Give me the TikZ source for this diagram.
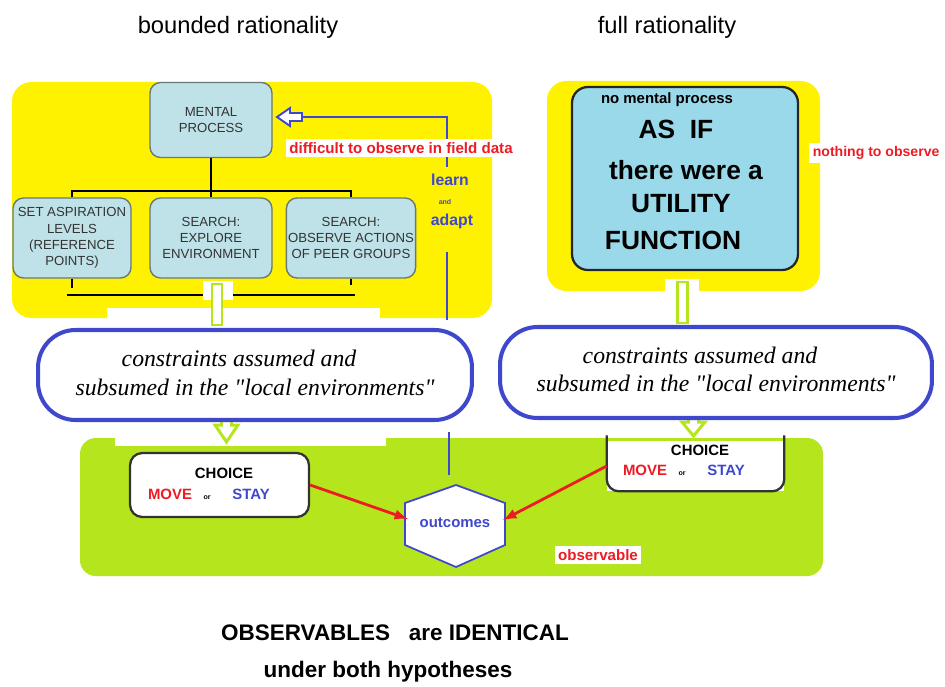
\documentclass[tikz,border=0pt]{standalone}
\usepackage{fontspec}
\setmainfont{Liberation Serif}
\setsansfont{Liberation Sans}
\usepackage{tikz}
\usetikzlibrary{positioning}
\definecolor{panelyellow}{RGB}{255,242,0}
\definecolor{panelgreen}{RGB}{181,230,29}
\definecolor{boxblue}{RGB}{190,226,232}
\definecolor{boxgray}{RGB}{105,120,120}
\definecolor{utilblue}{RGB}{153,217,234}
\definecolor{lineblue}{RGB}{63,72,204}
\definecolor{arrowred}{RGB}{237,28,36}
\newcommand{\plainquote}{\XeTeXglyph\XeTeXcharglyph"0022\relax}

\begin{document}
\begin{tikzpicture}[x=0.02cm,y=-0.02cm,node distance=0.2cm]
	\tikzstyle{heading}=[font=\sffamily\fontsize{13.5}{16}\selectfont]
	\tikzstyle{treebox}=[rectangle,rounded corners=6pt,draw=boxgray,fill=boxblue,line width=0.8pt,align=center,text=black!80,font=\sffamily\fontsize{7.5}{9.2}\selectfont,inner sep=1pt]
	\tikzstyle{treeline}=[line width=1.1pt]
	\tikzstyle{note}=[fill=white,text=arrowred,font=\sffamily\bfseries\fontsize{8.6}{9}\selectfont,inner sep=2pt]
	\tikzstyle{learntext}=[text=lineblue,font=\sffamily\bfseries\fontsize{9}{10}\selectfont,inner sep=0pt]
	\tikzstyle{feedback}=[lineblue,line width=1.2pt]
	\tikzstyle{bigtext}=[font=\sffamily\bfseries\fontsize{15}{17}\selectfont,inner sep=0pt]
	\tikzstyle{envbox}=[draw=lineblue,line width=2.3pt,fill=white,rounded corners=0.75cm]
	\tikzstyle{envtext}=[font=\itshape\fontsize{13.5}{16}\selectfont,inner sep=0pt]
	\tikzstyle{greenbar}=[draw=panelgreen,line width=1.7pt,fill=white,line join=miter]
	\tikzstyle{choicebox}=[draw=black!80,line width=1.3pt,fill=white,rounded corners=7pt,inner sep=0pt]
	\tikzstyle{choicetext}=[font=\sffamily\bfseries\fontsize{8.5}{10}\selectfont,inner sep=0pt]
	\tikzstyle{tinytext}=[font=\sffamily\bfseries\fontsize{4}{5}\selectfont,inner sep=0pt]
	\tikzstyle{choicearrow}=[arrowred,line width=1.6pt,-latex]
	\useasboundingbox (0,0) rectangle (945,686);
		\node[heading] (bounded) at (238,27) {bounded rationality};
		\node[heading] (full) at (667,27) {full rationality};
		\fill[panelyellow,rounded corners=11pt] (12,82) rectangle (492,318);
		\fill[white] (107,308) rectangle (380,322);
		\node[treebox,minimum width=2.44cm,minimum height=1.5cm] (mental) at (211,120) {MENTAL\\PROCESS};
		\node[treebox,minimum width=2.36cm,minimum height=1.6cm] (aspire) at (72,238) {SET ASPIRATION\\LEVELS\\(REFERENCE\\POINTS)};
		\node[treebox,minimum width=2.44cm,minimum height=1.6cm] (explore) at (211,238) {SEARCH:\\EXPLORE\\ENVIRONMENT};
		\node[treebox,minimum width=2.44cm,minimum height=1.6cm] (peers) at (351,238) {SEARCH:\\OBSERVE ACTIONS\\OF PEER GROUPS};
		\coordinate (fork) at (211,191);
			\draw[treeline] (mental) -- (fork);
			\draw[treeline] (aspire.north) |- (fork) -| (peers.north);
			\draw[treeline] (fork) -- (explore);
			\draw[treeline] (aspire.south) -- ++(0,9);
			\draw[treeline] (peers.south) -- ++(0,6);
			\draw[treeline] (67,295) -- (355,295);
		\coordinate (fb1) at (449,475);
		\coordinate (fb2) at (449,432);
		\coordinate (fb3) at (447,320);
		\coordinate (fb4) at (447,252);
		\coordinate (fb5) at (447,167);
		\coordinate (fb6) at (447,117);
		\coordinate (fb7) at (302,117);
			\draw[feedback] (fb3) -- (fb4);
			\draw[feedback] (fb5) -- (fb6) -- (fb7);
			\draw[lineblue,line width=1.1pt,fill=white,line join=miter] (fb7) -- ++(0,-4) -- ++(-12,0) -- ++(0,-5) -- ++(-13,9) -- ++(13,9) -- ++(0,-5) -- ++(12,0) -- cycle;
		\node[note] (difficult) at (401,148) {difficult to observe in field data};
		\node[learntext] (learn) at (450,180) {learn};
		\node[tinytext,text=lineblue] (and) at (445,202) {and};
		\node[learntext] (adapt) at (452,221) {adapt};
		\fill[white] (203,281) rectangle (233,300);
		\draw[greenbar] (212,284) rectangle (222,325);
		\fill[panelyellow,rounded corners=11pt] (547,81) rectangle (820,291);
		\fill[white] (665,279) rectangle (699,293);
		\draw[greenbar] (677,282) rectangle (687,323);
		\node[draw=black!85,line width=1.3pt,fill=utilblue,rounded corners=9pt,minimum width=4.52cm,minimum height=3.66cm] (utility) at (685,178.5) {};
		\node[font=\sffamily\bfseries\fontsize{8.5}{10}\selectfont,inner sep=0pt] (nomental) at (667,100) {no mental process};
		\node[bigtext] (asif) at (676,129) {AS\ \ IF};
		\node[bigtext] (therewere) at (686,170) {there were a};
		\node[bigtext] (utilityword) at (681,204) {UTILITY};
		\node[bigtext] (function) at (673,240) {FUNCTION};
		\node[note,anchor=west,font=\sffamily\bfseries\fontsize{8}{9}\selectfont] (nothing) at (809,153) {nothing to observe};
		\fill[panelgreen,rounded corners=9pt] (80,438) rectangle (823,576);
		\fill[white] (115,434) rectangle (386,446);
		\draw[greenbar] (221.5,405) -- (221.5,425) -- (215,425) -- (226.5,442) -- (238,425) -- (231.5,425) -- (231.5,405);
		\draw[greenbar] (688.5,405) -- (688.5,422) -- (682,422) -- (693.5,436) -- (705,422) -- (698.5,422) -- (698.5,405);
		\node[envbox,minimum width=8.68cm,minimum height=1.8cm] (env1) at (255,375) {};
		\node[envtext] (env1a) at (239,358) {constraints assumed and};
		\node[envtext] (env1b) at (255,387) {subsumed in the \plainquote local environments\plainquote};
		\node[envbox,minimum width=8.64cm,minimum height=1.82cm] (env2) at (716,372.5) {};
		\node[envtext] (env2a) at (700,355) {constraints assumed and};
		\node[envtext] (env2b) at (716,383) {subsumed in the \plainquote local environments\plainquote};
			\draw[feedback] (fb1) -- (fb2);
		\node[choicebox,minimum width=3.58cm,minimum height=1.28cm] (choice1) at (219.5,485) {};
		\node[choicetext,text=black] (choicehead1) at (224,473) {CHOICE};
		\node[choicetext,text=arrowred] (move1) at (170,494) {MOVE};
		\node[tinytext] (or1) [base right=0.22cm of move1] {or};
		\node[choicetext,text=lineblue] (stay1) [base right=0.42cm of or1] {STAY};
		\node[fill=white,minimum width=3.54cm,minimum height=1.0cm,inner sep=0pt] (choice2) at (695.5,466) {};
			\draw[line width=1.3pt,draw=black!80,rounded corners=7pt] ([yshift=3pt]choice2.north west) |- (choice2.south) -| ([yshift=3pt]choice2.north east);
		\node[choicetext,text=black] (choicehead2) at (700,450) {CHOICE};
		\node[choicetext,text=arrowred] (move2) at (645,470) {MOVE};
		\node[tinytext] (or2) [base right=0.22cm of move2] {or};
		\node[choicetext,text=lineblue] (stay2) [base right=0.42cm of or2] {STAY};
		\draw[lineblue,line width=1pt,fill=white] (456,485) -- (505,503) -- (505,545) -- (456,567) -- (405,545) -- (405,503) -- cycle;
		\node[learntext,font=\sffamily\bfseries\fontsize{8.5}{10}\selectfont] (outcomes) at (455,523) {outcomes};
		\coordinate (hexw) at (408,519);
		\coordinate (hexe) at (503,520);
			\draw[choicearrow] (choice1.east) -- (hexw);
			\draw[choicearrow] (choice2.west) -- (hexe);
		\node[note] (observable) at (598,555) {observable};
		\node[font=\sffamily\bfseries\fontsize{12.8}{15}\selectfont] (identical) at (395,633) {OBSERVABLES\ \ \ are IDENTICAL};
		\node[font=\sffamily\bfseries\fontsize{12.8}{15}\selectfont] (hypotheses) at (388,672) {under both hypotheses};
\end{tikzpicture}
\end{document}
